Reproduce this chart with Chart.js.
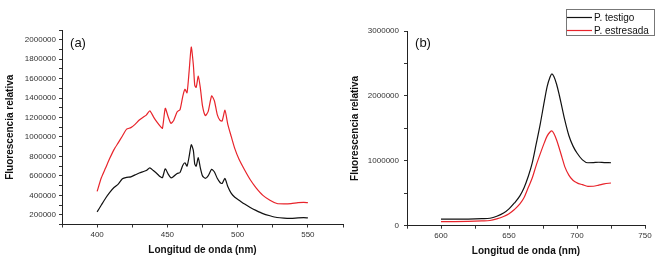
<!DOCTYPE html>
<html><head><meta charset="utf-8">
<script src="https://cdn.jsdelivr.net/npm/chart.js@4.4.1/dist/chart.umd.min.js"></script>
<style>
html,body{margin:0;padding:0;background:#fff;width:656px;height:261px;overflow:hidden}
#ca{position:absolute;left:0;top:0;width:345px;height:261px}
#cb{position:absolute;left:345px;top:0;width:311px;height:261px}
</style></head><body>
<canvas id="ca" width="345" height="261"></canvas>
<canvas id="cb" width="311" height="261"></canvas>
<script>
// ---------- Data panel (a) ----------
const wavelengthsA = [400,403,406,409,412,415,418,421,424,427,430,433,435,437.5,440,442.5,445,446.5,448.5,450.5,452.5,454.5,457,459,461,462.5,464,465.5,467,468.5,469.5,470.5,472,473.5,475,477,479,481.5,483.5,485.5,487.5,489,491,493,495.5,498,501,505,509,513,518,523,528,533,538,543,547,550];
const testigoA = [230000,300000,370000,430000,480000,515000,570000,585000,590000,610000,630000,645000,655000,683000,655000,625000,590000,582000,672000,620000,580000,595000,625000,635000,710000,735000,700000,800000,920000,860000,720000,700000,787000,680000,600000,575000,600000,667000,640000,575000,532000,522000,574000,490000,420000,380000,350000,310000,275000,245000,212000,190000,172000,165000,163000,168000,170000,168000];
const estresadaA = [440000,580000,680000,780000,870000,940000,1010000,1080000,1096000,1130000,1175000,1205000,1225000,1268000,1210000,1155000,1110000,1090000,1295000,1210000,1140000,1170000,1260000,1280000,1420000,1490000,1455000,1680000,1925000,1740000,1530000,1510000,1625000,1500000,1320000,1220000,1260000,1423000,1370000,1230000,1170000,1165000,1275000,1130000,1003000,880000,770000,660000,560000,480000,400000,350000,316000,312000,315000,325000,327000,325000];
// ---------- Data panel (b) ----------
const wavelengthsB = [600,610,620,630,636,641,646,650,654,658,661,664,667,670,673,676,678,680,681.5,683,685,687,689,691,694,697,700,704,708,712,716,720,725];
const testigoB = [100000,100000,102000,108000,115000,145000,195000,260000,350000,460000,580000,750000,960000,1260000,1570000,1920000,2140000,2280000,2340000,2300000,2180000,2010000,1820000,1630000,1390000,1230000,1120000,1015000,970000,972000,978000,972000,970000];
const estresadaB = [62000,64000,68000,74000,80000,105000,142000,185000,250000,335000,430000,580000,730000,930000,1110000,1280000,1380000,1440000,1460000,1420000,1320000,1190000,1050000,910000,780000,700000,660000,632000,607000,608000,625000,645000,658000];
// ---------- Labels ----------
const seriesNames = ['P. testigo','P. estresada'];
const xTickLabelsA = [400,450,500,550];
const yTickLabelsA = [200000,400000,600000,800000,1000000,1200000,1400000,1600000,1800000,2000000];
const xTickLabelsB = [600,650,700,750];
const yTickLabelsB = [0,1000000,2000000,3000000];
const xTitle = 'Longitud de onda (nm)';
const yTitle = 'Fluorescencia relativa';

const FONT = '"Liberation Sans", Arial, Helvetica, sans-serif';
const BLACK = '#111111';
const RED = '#e8242b';

function pts(xs, ys){ return xs.map((x,i)=>({x:x,y:ys[i]})); }

function xScale(min,max,step,labels,height,titlePad){
  return {type:'linear',min:min,max:max,
    ticks:{stepSize:step,autoSkip:false,maxRotation:0,padding:2,color:'#333',font:{family:FONT,size:8},
      callback:(v)=>labels.includes(Math.round(v))?String(Math.round(v)):''},
    grid:{display:true,drawOnChartArea:false,drawTicks:true,tickLength:3,tickColor:'#333'},
    border:{display:true,color:'#222',width:1},
    title:{display:true,text:xTitle,color:'#111',font:{family:FONT,size:10,weight:'bold'},padding:{top:0,bottom:titlePad}},
    afterFit:(s)=>{s.height=height;}
  };
}
function yScale(min,max,step,labels,width,tickPad){
  return {type:'linear',min:min,max:max,
    ticks:{stepSize:step,autoSkip:false,padding:tickPad,color:'#333',font:{family:FONT,size:8},
      callback:(v)=>labels.includes(Math.round(v))?String(Math.round(v)):''},
    grid:{display:true,drawOnChartArea:false,drawTicks:true,tickLength:3,tickColor:'#333'},
    border:{display:true,color:'#222',width:1},
    title:{display:true,text:yTitle,color:'#111',font:{family:FONT,size:10,weight:'bold'},padding:{top:4,bottom:0}},
    afterFit:(s)=>{s.width=width;}
  };
}
function panelLabel(txt){
  return {id:'panelLabel',afterDraw(chart){
    const ctx=chart.ctx; ctx.save();
    ctx.font='13px '+FONT; ctx.fillStyle='#111'; ctx.textAlign='center'; ctx.textBaseline='middle';
    ctx.fillText(txt, chart.chartArea.left+16, 43);
    ctx.restore();
  }};
}
const legendBox = {id:'legendBox',afterDraw(chart){
  const ctx=chart.ctx; ctx.save();
  ctx.strokeStyle='#777'; ctx.lineWidth=1; ctx.strokeRect(221.5,9.5,88,26);
  ctx.font='10px '+FONT; ctx.textBaseline='middle'; ctx.textAlign='left';
  chart.data.datasets.forEach((ds,i)=>{
    const y=17.5+i*13;
    ctx.strokeStyle=ds.borderColor; ctx.lineWidth=1.2;
    ctx.beginPath(); ctx.moveTo(222,y); ctx.lineTo(247,y); ctx.stroke();
    ctx.fillStyle='#111'; ctx.fillText(ds.label,249,y+0.5);
  });
  ctx.restore();
}};

const common = {responsive:false,animation:false,devicePixelRatio:1,
  elements:{point:{radius:0}},
  plugins:{legend:{display:false},tooltip:{enabled:false}}};

new Chart(document.getElementById('ca'),{
  type:'line',
  data:{datasets:[
    {label:seriesNames[0],data:pts(wavelengthsA,testigoA),borderColor:BLACK,borderWidth:1.2,tension:0.2,fill:false},
    {label:seriesNames[1],data:pts(wavelengthsA,estresadaA),borderColor:RED,borderWidth:1.2,tension:0.2,fill:false}
  ]},
  options:Object.assign({},common,{
    layout:{padding:{left:0,top:30,right:0.5,bottom:0}},
    scales:{x:xScale(375,575,25,xTickLabelsA,36.5,5),y:yScale(100000,2100000,100000,yTickLabelsA,62,3)}
  }),
  plugins:[panelLabel('(a)')]
});

new Chart(document.getElementById('cb'),{
  type:'line',
  data:{datasets:[
    {label:seriesNames[0],data:pts(wavelengthsB,testigoB),borderColor:BLACK,borderWidth:1.2,tension:0.4,cubicInterpolationMode:'monotone',fill:false},
    {label:seriesNames[1],data:pts(wavelengthsB,estresadaB),borderColor:RED,borderWidth:1.2,tension:0.4,cubicInterpolationMode:'monotone',fill:false}
  ]},
  options:Object.assign({},common,{
    layout:{padding:{left:0,top:31,right:11,bottom:0}},
    scales:{x:xScale(575,750,25,xTickLabelsB,35.3,3.3),y:yScale(0,3000000,500000,yTickLabelsB,62,5)}
  }),
  plugins:[panelLabel('(b)'),legendBox]
});
</script>
</body></html>
